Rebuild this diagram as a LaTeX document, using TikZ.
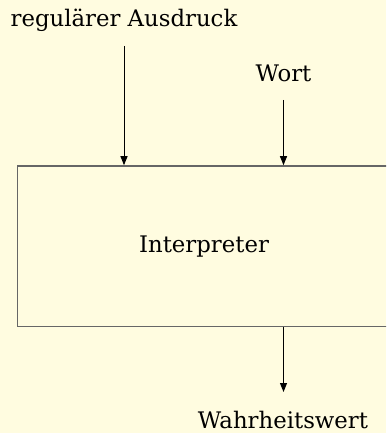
\documentclass[tikz,border=0pt]{standalone}
\usepackage{fontspec}
\setmainfont{DejaVu Serif}
\usetikzlibrary{arrows.meta}
\definecolor{bgyellow}{HTML}{FFFCE0}
\tikzset{
  lbl/.style={font=\fontsize{22.8}{27}\selectfont, inner sep=0pt, anchor=base, text=black},
  procbox/.style={draw=black!60, line width=1.6pt, inner sep=0pt, font=\fontsize{22.8}{27}\selectfont},
  flow/.style={draw=black, line width=1pt, -{Triangle[length=9pt,width=7pt]}}
}
\begin{document}
\begin{tikzpicture}[x=1pt,y=-1pt]
  \fill[bgyellow] (0,0) rectangle (386,433);
  \clip (0,0) rectangle (386,433);
  \useasboundingbox (0,0) rectangle (386,433);
  \node[procbox, minimum width=373pt, minimum height=160.5pt] (interp) at (204,246.25) {Interpreter};
  \node[lbl] (ra) at (124,26.7) {regulärer Ausdruck};
  \node[lbl] (wort) at (283.5,82) {Wort};
  \node[lbl] (ww) at (283,428.3) {Wahrheitswert};
  \coordinate (raend) at (124,46);
  \coordinate (wortend) at (283.5,100);
  \coordinate (wwend) at (283.5,392);
  \draw[flow] (raend) -- (raend |- interp.north);
  \draw[flow] (wortend) -- (wortend |- interp.north);
  \draw[flow] (wwend |- interp.south) -- (wwend);
\end{tikzpicture}
\end{document}
